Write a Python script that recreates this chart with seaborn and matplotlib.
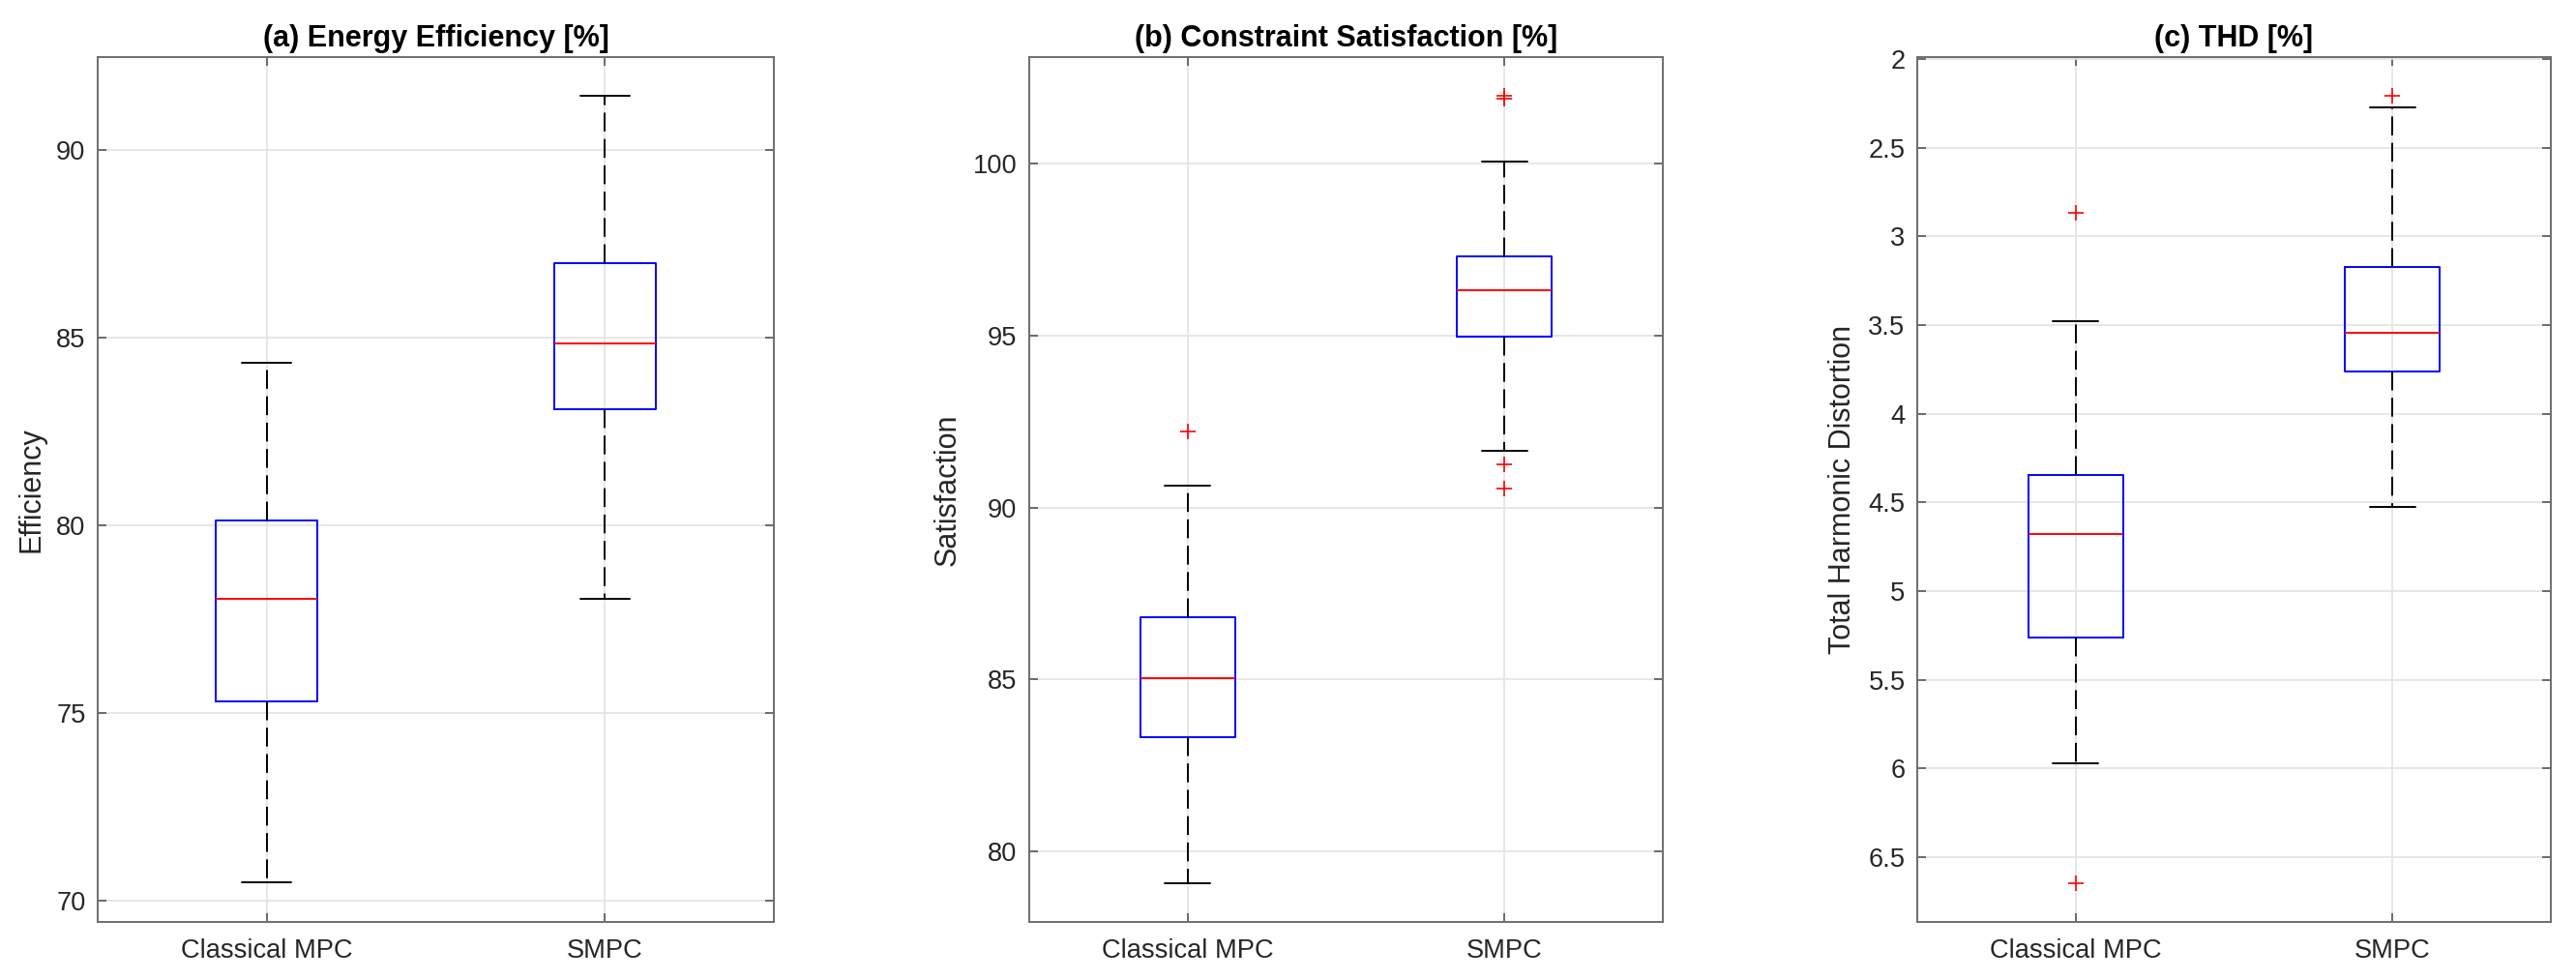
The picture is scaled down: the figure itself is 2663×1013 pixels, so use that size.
import matplotlib
matplotlib.use("Agg")
import matplotlib.pyplot as plt
import seaborn as sns
from matplotlib.ticker import FormatStrFormatter, FuncFormatter

# ---------------- data ----------------
groups = ["Classical MPC", "SMPC"]

# (a) Energy efficiency [%]
eff_whislo = [70.49, 78.05]
eff_q1 = [75.31, 83.10]
eff_med = [78.05, 84.85]
eff_q3 = [80.14, 86.99]
eff_whishi = [84.34, 91.44]
eff_fliers = [[], []]

# (b) Constraint satisfaction [%]
sat_whislo = [79.09, 91.64]
sat_q1 = [83.34, 94.95]
sat_med = [85.04, 96.31]
sat_q3 = [86.81, 97.30]
sat_whishi = [90.62, 100.05]
sat_fliers = [[92.21], [90.55, 91.26, 101.88, 101.95]]

# (c) THD [%]
thd_whislo = [3.477, 2.273]
thd_q1 = [4.348, 3.172]
thd_med = [4.68, 3.544]
thd_q3 = [5.261, 3.763]
thd_whishi = [5.97, 4.528]
thd_fliers = [[2.868, 6.649], [2.209]]

titles = ["(a) Energy Efficiency [%]", "(b) Constraint Satisfaction [%]", "(c) THD [%]"]
ylabels = ["Efficiency", "Satisfaction", "Total Harmonic Distortion"]
yticks_a = [70, 75, 80, 85, 90]
yticks_b = [80, 85, 90, 95, 100]
yticks_c = [2, 2.5, 3, 3.5, 4, 4.5, 5, 5.5, 6, 6.5]

# ---------------- style ----------------
sns.set_theme(style="whitegrid")
plt.rcParams["font.family"] = ["Liberation Sans", "DejaVu Sans"]
plt.rcParams["axes.edgecolor"] = "#6e6e6e"
plt.rcParams["grid.color"] = "#e3e3e3"
plt.rcParams["grid.linewidth"] = 0.6

fig = plt.figure(figsize=(2663 / 200, 1013 / 200), dpi=200)

positions_px = [(101, 800), (1064, 1719), (1982, 2637)]
top_px, bottom_px = 59, 953
W, H = 2663, 1013


def make_stats(whislo, q1, med, q3, whishi, fliers):
    stats = []
    for i in range(len(groups)):
        stats.append(dict(label=groups[i], whislo=whislo[i], q1=q1[i], med=med[i],
                          q3=q3[i], whishi=whishi[i], fliers=fliers[i]))
    return stats


all_stats = [
    make_stats(eff_whislo, eff_q1, eff_med, eff_q3, eff_whishi, eff_fliers),
    make_stats(sat_whislo, sat_q1, sat_med, sat_q3, sat_whishi, sat_fliers),
    make_stats(thd_whislo, thd_q1, thd_med, thd_q3, thd_whishi, thd_fliers),
]
ylims = [(69.43, 92.48), (77.96, 103.08), (6.865, 1.99)]
yticks = [yticks_a, yticks_b, yticks_c]

for k in range(3):
    l, r = positions_px[k]
    ax = fig.add_axes([l / W, 1 - bottom_px / H, (r - l) / W, (bottom_px - top_px) / H])
    ax.set_facecolor("white")
    ax.bxp(all_stats[k], positions=[1, 2], widths=0.30, capwidths=0.145,
           boxprops=dict(color="#0000ff", linewidth=0.7),
           medianprops=dict(color="#ff0000", linewidth=0.7),
           whiskerprops=dict(color="black", linewidth=0.7, linestyle=(0, (10, 4))),
           capprops=dict(color="black", linewidth=0.7),
           flierprops=dict(marker="+", markeredgecolor="#ff0000", markersize=6,
                           markeredgewidth=0.6, linestyle="none"),
           zorder=3)
    ax.set_xlim(0.5, 2.5)
    ax.set_ylim(*ylims[k])
    ax.set_xticks([1, 2])
    ax.set_xticklabels(groups)
    ax.set_yticks(yticks[k])
    ax.yaxis.set_major_formatter(FuncFormatter(lambda v, p: f"{v:g}"))
    ax.grid(True, which="major", axis="both", color="#e3e3e3", linewidth=0.6, zorder=0)
    ax.set_axisbelow(True)
    for s in ax.spines.values():
        s.set_visible(True)
        s.set_color("#6e6e6e")
        s.set_linewidth(0.7)
    ax.tick_params(direction="in", length=3.2, width=0.6, color="#555555",
                   top=True, right=True, bottom=True, left=True,
                   labelsize=9.8, labelcolor="#262626", pad=4.5)
    ax.tick_params(axis="x", pad=6)
    ax.set_title(titles[k], fontsize=11, fontweight="bold", pad=4, color="black")
    ax.set_ylabel(ylabels[k], fontsize=11, color="#262626", labelpad=4)

fig.savefig("out.png", dpi=200, facecolor="white")
